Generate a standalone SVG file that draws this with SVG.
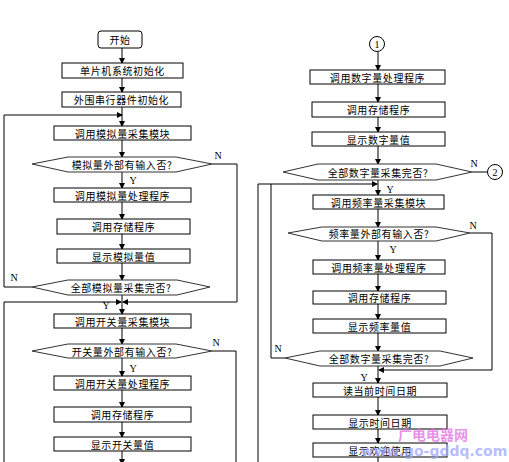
<svg xmlns="http://www.w3.org/2000/svg" width="509" height="462" viewBox="0 0 509 462">
<defs>
<marker id="ah" markerWidth="6" markerHeight="6" refX="5" refY="3" orient="auto" markerUnits="userSpaceOnUse">
<path d="M0,0 L6,3 L0,6 Z" fill="#000"/>
</marker>
<style>
.box{fill:#fff;stroke:#000;stroke-width:1}
.dia{fill:#fff;stroke:#333;stroke-width:1}
.t{font-family:"Noto Sans CJK SC","Noto Sans CJK JP",sans-serif;font-size:10px;fill:#000;text-anchor:middle;dominant-baseline:central;letter-spacing:0.6px}
.l{font-family:"Liberation Serif",serif;font-size:10px;fill:#000;text-anchor:middle;dominant-baseline:central}
.c{fill:none;stroke:#000;stroke-width:1}
.a{fill:none;stroke:#000;stroke-width:1;marker-end:url(#ah)}
</style>
</defs>
<rect width="509" height="462" fill="#fff"/>
<g id="connectors">
<line class="a" x1="122" y1="48" x2="122" y2="63"/>
<line class="a" x1="122" y1="78" x2="122" y2="92"/>
<line class="a" x1="122" y1="107" x2="122" y2="126"/>
<line class="a" x1="122" y1="140" x2="122" y2="157"/>
<line class="a" x1="122" y1="172" x2="122" y2="188"/>
<line class="a" x1="122" y1="202" x2="122" y2="219"/>
<line class="a" x1="122" y1="234" x2="122" y2="249"/>
<line class="a" x1="122" y1="263" x2="122" y2="280"/>
<line class="a" x1="122" y1="295" x2="122" y2="314"/>
<line class="a" x1="122" y1="328" x2="122" y2="344"/>
<line class="a" x1="122" y1="358" x2="122" y2="376"/>
<line class="a" x1="122" y1="390" x2="122" y2="407"/>
<line class="a" x1="122" y1="422" x2="122" y2="437"/>
<line class="a" x1="122" y1="451" x2="122" y2="464"/>
<polyline class="a" points="32,287 4,287 4,115 122,115"/>
<polyline class="a" points="212,164 237,164 237,302 123,302"/>
<polyline class="a" points="4,462 4,302 121,302"/>
<polyline class="c" points="212,351 236,351 236,462"/>
<line class="a" x1="378" y1="52" x2="378" y2="70"/>
<line class="a" x1="378" y1="84" x2="378" y2="102"/>
<line class="a" x1="378" y1="117" x2="378" y2="132"/>
<line class="a" x1="378" y1="146" x2="378" y2="164"/>
<line class="c" x1="472" y1="172" x2="488" y2="172"/>
<line class="a" x1="378" y1="180" x2="378" y2="195"/>
<line class="a" x1="378" y1="209" x2="378" y2="227"/>
<line class="a" x1="378" y1="241" x2="378" y2="260"/>
<line class="a" x1="378" y1="274" x2="378" y2="291"/>
<line class="a" x1="378" y1="304" x2="378" y2="319"/>
<line class="a" x1="378" y1="333" x2="378" y2="351"/>
<line class="a" x1="378" y1="366" x2="378" y2="383"/>
<line class="a" x1="378" y1="397" x2="378" y2="415"/>
<line class="a" x1="378" y1="429" x2="378" y2="443"/>
<line class="c" x1="378" y1="457" x2="378" y2="462"/>
<polyline class="a" points="258,462 258,184 377,184"/>
<polyline class="c" points="285,358 271,358 271,184"/>
<polyline class="a" points="470,233 492,233 492,370 379,370"/>
</g>
<g id="start"><rect class="box" x="98" y="31" width="44" height="17" rx="3"/><text class="t" x="120" y="39.5">开始</text></g>
<g id="n2"><rect class="box" x="62" y="63" width="121" height="15"/><text class="t" x="122.5" y="70.5">单片机系统初始化</text></g>
<g id="n3"><rect class="box" x="62" y="92" width="119" height="15"/><text class="t" x="121.5" y="99.5">外围串行器件初始化</text></g>
<g id="n4"><rect class="box" x="54" y="126" width="137" height="14"/><text class="t" x="122.5" y="133">调用模拟量采集模块</text></g>
<g id="d1"><polygon class="dia" points="32,164 68,157 176,157 212,164 176,172 68,172"/><text class="t" x="122" y="164.5">模拟量外部有输入否?</text></g>
<g id="n5"><rect class="box" x="54" y="188" width="137" height="14"/><text class="t" x="122.5" y="195">调用模拟量处理程序</text></g>
<g id="n6"><rect class="box" x="57" y="219" width="133" height="15"/><text class="t" x="123.5" y="226.5">调用存储程序</text></g>
<g id="n7"><rect class="box" x="57" y="249" width="133" height="14"/><text class="t" x="123.5" y="256">显示模拟量值</text></g>
<g id="d2"><polygon class="dia" points="32,287 68,280 177,280 210,287 177,295 68,295"/><text class="t" x="121" y="287.5">全部模拟量采集完否?</text></g>
<g id="n8"><rect class="box" x="54" y="314" width="137" height="14"/><text class="t" x="122.5" y="321">调用开关量采集模块</text></g>
<g id="d3"><polygon class="dia" points="32,351 68,344 176,344 212,351 176,358 68,358"/><text class="t" x="122" y="351.5">开关量外部有输入否?</text></g>
<g id="n9"><rect class="box" x="54" y="376" width="137" height="14"/><text class="t" x="122.5" y="383">调用开关量处理程序</text></g>
<g id="n10"><rect class="box" x="54" y="407" width="137" height="15"/><text class="t" x="122.5" y="414.5">调用存储程序</text></g>
<g id="n11"><rect class="box" x="54" y="437" width="137" height="14"/><text class="t" x="122.5" y="444">显示开关量值</text></g>
<g id="c1"><circle cx="377" cy="44" r="7.5" fill="#fff" stroke="#000"/><text class="l" x="377" y="44.5">1</text></g>
<g id="r1"><rect class="box" x="310" y="70" width="135" height="14"/><text class="t" x="377.5" y="77">调用数字量处理程序</text></g>
<g id="r2"><rect class="box" x="312" y="102" width="133" height="15"/><text class="t" x="378.5" y="109.5">调用存储程序</text></g>
<g id="r3"><rect class="box" x="312" y="132" width="133" height="14"/><text class="t" x="378.5" y="139">显示数字量值</text></g>
<g id="rd1"><polygon class="dia" points="283,172 318,164 436,164 472,172 436,180 318,180"/><text class="t" x="378" y="172.5">全部数字量采集完否?</text></g>
<g id="c2"><circle cx="495" cy="172" r="7.5" fill="#fff" stroke="#000"/><text class="l" x="495" y="172.5">2</text></g>
<g id="r4"><rect class="box" x="313" y="195" width="131" height="14"/><text class="t" x="378.5" y="202">调用频率量采集模块</text></g>
<g id="rd2"><polygon class="dia" points="288,233 322,227 436,227 470,233 436,241 322,241"/><text class="t" x="379" y="233.5">频率量外部有输入否?</text></g>
<g id="r5"><rect class="box" x="313" y="260" width="132" height="14"/><text class="t" x="379" y="267">调用频率量处理程序</text></g>
<g id="r6"><rect class="box" x="313" y="291" width="133" height="13"/><text class="t" x="379.5" y="297.5">调用存储程序</text></g>
<g id="r7"><rect class="box" x="313" y="319" width="133" height="14"/><text class="t" x="379.5" y="326">显示频率量值</text></g>
<g id="rd3"><polygon class="dia" points="285,358 320,351 440,351 473,358 440,366 320,366"/><text class="t" x="379" y="358.5">全部数字量采集完否?</text></g>
<g id="r8"><rect class="box" x="313" y="383" width="134" height="14"/><text class="t" x="380" y="390">读当前时间日期</text></g>
<g id="r9"><rect class="box" x="313" y="415" width="134" height="14"/><text class="t" x="380" y="422">显示时间日期</text></g>
<g id="r10"><rect class="box" x="313" y="443" width="134" height="14"/><text class="t" x="380" y="450">显示欢迎使用</text></g>
<g id="labels">
<text class="l" x="133" y="180">Y</text>
<text class="l" x="218" y="155">N</text>
<text class="l" x="14" y="277">N</text>
<text class="l" x="106" y="305">Y</text>
<text class="l" x="216" y="342">N</text>
<text class="l" x="133" y="368">Y</text>
<text class="l" x="474" y="163">N</text>
<text class="l" x="390" y="189">Y</text>
<text class="l" x="473" y="225">N</text>
<text class="l" x="393" y="249">Y</text>
<text class="l" x="278" y="348">N</text>
<text class="l" x="364" y="377">Y</text>
</g>
<g id="watermark" opacity="0.75">
<text x="433" y="434" font-family="'Noto Sans CJK SC',sans-serif" font-size="14" font-weight="bold" fill="#e070e0" text-anchor="middle" dominant-baseline="central">广电电器网</text>
<text x="434" y="451" font-family="'DejaVu Sans',sans-serif" font-size="14" font-weight="bold" fill="#a0a8ff" text-anchor="middle" dominant-baseline="central">www.go-gddq.com</text>
</g>
</svg>
